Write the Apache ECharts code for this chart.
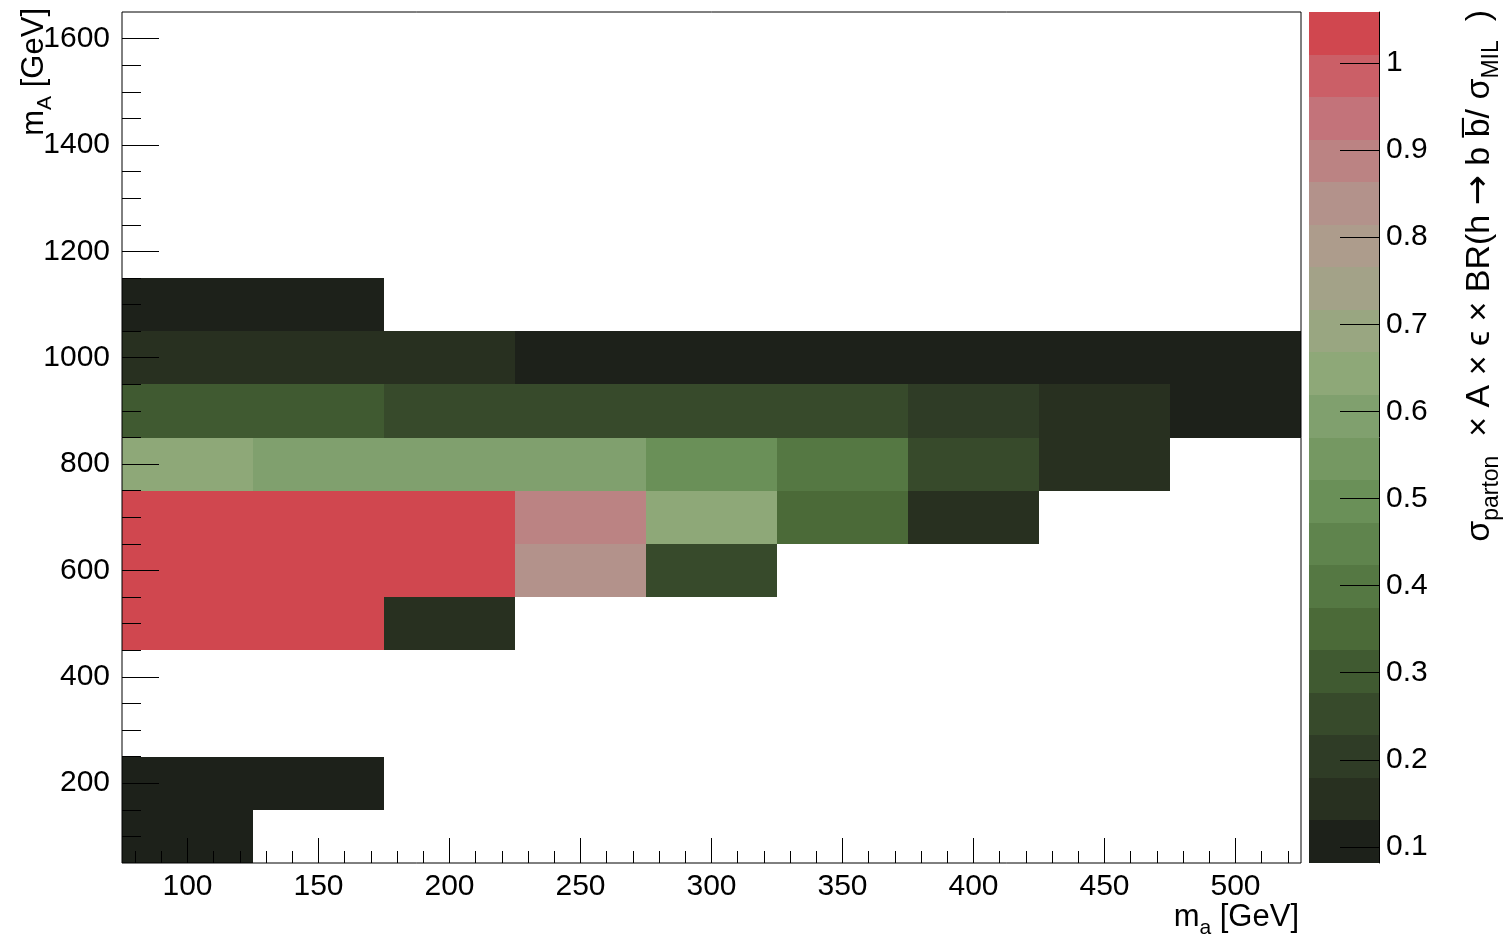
<!DOCTYPE html>
<html>
<head>
<meta charset="utf-8">
<script src="https://cdn.jsdelivr.net/npm/echarts@6/dist/echarts.min.js"></script>
<style>
  html, body { margin: 0; padding: 0; background: #ffffff; }
  #chart { width: 1511px; height: 941px; }
</style>
</head>
<body>
<div id="chart"></div>
<script>
// Bin centres of the 2D histogram (bins are 50 GeV wide in m_a, 100 GeV tall in m_A)
const maCentres = [100, 150, 200, 250, 300, 350, 400, 450, 500];
const mACentres = [100, 200, 500, 600, 700, 800, 900, 1000, 1100];
const maBinWidth = 50;
const mABinWidth = 100;

// sigma_parton x A x eps x BR / sigma_MIL, one entry per m_a bin (null = empty bin)
const row100  = [0.0816, null, null, null, null, null, null, null, null];
const row200  = [0.10, 0.11, null, null, null, null, null, null, null];
const row500  = [1.03, 1.02, 0.15, null, null, null, null, null, null];
const row600  = [1.05, 1.04, 1.02, 0.84, 0.25, null, null, null, null];
const row700  = [1.0585, 1.04, 1.03, 0.89, 0.64, 0.35, 0.15, null, null];
const row800  = [0.64, 0.60, 0.60, 0.59, 0.50, 0.40, 0.25, 0.15, null];
const row900  = [0.30, 0.30, 0.25, 0.25, 0.25, 0.25, 0.20, 0.15, 0.10];
const row1000 = [0.15, 0.15, 0.15, 0.10, 0.10, 0.10, 0.10, 0.10, 0.10];
const row1100 = [0.10, 0.10, null, null, null, null, null, null, null];
const rows = [row100, row200, row500, row600, row700, row800, row900, row1000, row1100];

// Axis ticks
const maTicks = [100, 150, 200, 250, 300, 350, 400, 450, 500];
const mATicks = [200, 400, 600, 800, 1000, 1200, 1400, 1600];
const zTicks = [0.1, 0.2, 0.3, 0.4, 0.5, 0.6, 0.7, 0.8, 0.9, 1];
const maMinorTicks = [];
for (let v = 80; v <= 520; v += 10) maMinorTicks.push(v);
const mAMinorTicks = [];
for (let v = 100; v <= 1600; v += 50) mAMinorTicks.push(v);

// Colour scale: 20 contour levels between the z range limits
const zMin = 0.0816, zMax = 1.0585, nContours = 20;
const palette = [
  '#1d211a', '#283020', '#2f3c26', '#374a2b', '#405a31',
  '#4b6a38', '#557843', '#5f844d', '#6a9058', '#759862',
  '#80a06e', '#8ea878', '#99a681', '#a3a288', '#ad9c8c',
  '#b3928b', '#bb8383', '#c3737a', '#cb5f67', '#d0474f'
];
const zStep = (zMax - zMin) / nContours;
const pieces = palette.map((c, i) => i === nContours - 1
  ? { gte: zMin + i * zStep, lte: zMax, color: c }
  : { gte: zMin + i * zStep, lt: zMin + (i + 1) * zStep, color: c });
const colourBands = palette.map((c, i) => [zMin + i * zStep, zMin + (i + 1) * zStep, zMin + (i + 0.5) * zStep]);

const cells = [];
rows.forEach((row, r) => row.forEach((v, c) => {
  if (v !== null) cells.push([maCentres[c], mACentres[r], v]);
}));

const FONT = 'Liberation Sans, Arial, Helvetica, sans-serif';
const plain = v => String(v);
const labelStyle = { color: '#000', fontFamily: FONT, fontSize: 30, formatter: plain };
const tickLine = { color: '#000', width: 1 };

function binRect(api, x0v, y0v, x1v, y1v) {
  const a = api.coord([x0v, y0v]);
  const b = api.coord([x1v, y1v]);
  const x0 = Math.round(a[0]), y0 = Math.round(a[1]);
  const x1 = Math.round(b[0]), y1 = Math.round(b[1]);
  return {
    type: 'rect',
    shape: { x: x0, y: y0, width: x1 - x0, height: y1 - y0 },
    style: { fill: api.visual('color') }
  };
}

const chart = echarts.init(document.getElementById('chart'), null, { renderer: 'canvas' });

chart.setOption({
  animation: false,
  backgroundColor: '#ffffff',
  grid: [
    { left: 122, top: 12, width: 1179, height: 851, show: true, borderColor: '#000', borderWidth: 1, backgroundColor: 'transparent', z: 5 },
    { left: 122, top: 12, width: 1179, height: 851, show: false },
    { left: 1309, top: 12, width: 70, height: 851, show: false }
  ],
  xAxis: [
    {
      gridIndex: 0, type: 'value', min: 75, max: 525, z: 5,
      axisLine: { show: false, onZero: false }, splitLine: { show: false },
      axisTick: { show: true, inside: true, length: 25, lineStyle: tickLine, customValues: maTicks },
      axisLabel: Object.assign({ margin: 9, customValues: maTicks }, labelStyle)
    },
    {
      gridIndex: 1, type: 'value', min: 75, max: 525, z: 5,
      axisLine: { show: false, onZero: false }, splitLine: { show: false }, axisLabel: { show: false },
      axisTick: { show: true, inside: true, length: 12, lineStyle: tickLine, customValues: maMinorTicks }
    },
    {
      gridIndex: 2, type: 'value', min: 0, max: 1, show: false,
      axisLine: { onZero: false }
    }
  ],
  yAxis: [
    {
      gridIndex: 0, type: 'value', min: 50, max: 1650, z: 5,
      axisLine: { show: false, onZero: false }, splitLine: { show: false },
      axisTick: { show: true, inside: true, length: 37, lineStyle: tickLine, customValues: mATicks },
      axisLabel: Object.assign({ margin: 12, customValues: mATicks }, labelStyle)
    },
    {
      gridIndex: 1, type: 'value', min: 50, max: 1650, z: 5,
      axisLine: { show: false, onZero: false }, splitLine: { show: false }, axisLabel: { show: false },
      axisTick: { show: true, inside: true, length: 19, lineStyle: tickLine, customValues: mAMinorTicks }
    },
    {
      gridIndex: 2, type: 'value', min: zMin, max: zMax, position: 'right', z: 5,
      axisLine: { show: true, onZero: false, lineStyle: { color: '#000', width: 1 } },
      splitLine: { show: false },
      axisTick: { show: true, inside: true, length: 39, lineStyle: tickLine, customValues: zTicks },
      axisLabel: Object.assign({ margin: 7, customValues: zTicks }, labelStyle)
    }
  ],
  visualMap: [{
    type: 'piecewise', show: false, dimension: 2, seriesIndex: [0, 1],
    pieces: pieces, outOfRange: { color: 'rgba(0,0,0,0)' }
  }],
  series: [
    {
      // histogram bins
      type: 'custom', xAxisIndex: 0, yAxisIndex: 0, z: 2, silent: true,
      data: cells,
      renderItem: function (params, api) {
        const ma = api.value(0), mA = api.value(1);
        return binRect(api, ma - maBinWidth / 2, mA + mABinWidth / 2, ma + maBinWidth / 2, mA - mABinWidth / 2);
      }
    },
    {
      // colour scale bar
      type: 'custom', xAxisIndex: 2, yAxisIndex: 2, z: 2, silent: true,
      data: colourBands,
      renderItem: function (params, api) {
        return binRect(api, 0, api.value(1), 1, api.value(0));
      }
    }
  ],
  graphic: [
    {
      type: 'text', x: 1299, y: 917, z: 10,
      style: {
        text: '{m|m}{s|a}{m| [GeV]}',
        align: 'right', verticalAlign: 'middle',
        rich: {
          m: { fontFamily: FONT, fontSize: 31, fill: '#000' },
          s: { fontFamily: FONT, fontSize: 21, fill: '#000', padding: [22, 0, 0, 0] }
        }
      }
    },
    {
      type: 'text', x: 34, y: 8, rotation: Math.PI / 2, z: 10,
      style: {
        text: '{m|m}{s|A}{m| [GeV]}',
        align: 'right', verticalAlign: 'middle',
        rich: {
          m: { fontFamily: FONT, fontSize: 31, fill: '#000' },
          s: { fontFamily: FONT, fontSize: 21, fill: '#000', padding: [22, 0, 0, 0] }
        }
      }
    },
    {
      type: 'text', x: 1480, y: 10, rotation: Math.PI / 2, z: 10,
      style: {
        text: '{m|σ}{s|parton}{m|  × A × ϵ × BR(h }{a|→}{m| b b\u0305/ σ}{s|MIL}{m|  )}',
        align: 'right', verticalAlign: 'middle',
        rich: {
          m: { fontFamily: FONT, fontSize: 34, fill: '#000' },
          a: { fontFamily: 'DejaVu Sans', fontSize: 36, fill: '#000' },
          s: { fontFamily: FONT, fontSize: 23, fill: '#000', padding: [24, 0, 0, 0] }
        }
      }
    }
  ]
});
</script>
</body>
</html>
